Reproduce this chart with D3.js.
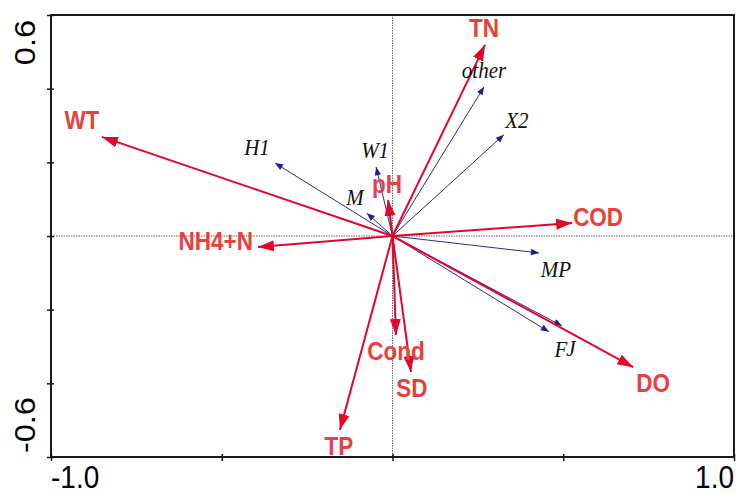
<!DOCTYPE html>
<html><head><meta charset="utf-8">
<script src="https://cdn.jsdelivr.net/npm/d3@7"></script>
<style>html,body{margin:0;padding:0;background:#fff;}svg{display:block;}</style>
</head><body>
<svg id="c" width="736" height="495"></svg>
<script>
// ---- data ----
const envNames = ["TN","WT","pH","NH4+N","COD","DO","Cond","SD","TP"];
const envX     = [0.271,-0.851,-0.013,-0.394,0.526,0.705,0.010,0.054,-0.154];
const envY     = [0.519, 0.269, 0.098,-0.030,0.035,-0.356,-0.269,-0.369,-0.527];

const spNames = ["other","X2","H1","W1","M","MP","F","J"];
const spX     = [0.268,0.326,-0.344,-0.048,-0.075,0.429,0.458,0.496];
const spY     = [0.405,0.275, 0.198, 0.187, 0.062,-0.046,-0.260,-0.244];

const xTickValues = [-1,-0.5,0,0.5,1];
const yTickValues = [-0.6,-0.4,-0.2,0,0.2,0.4,0.6];
const xTickLabels = ["-1.0","1.0"];
const yTickLabels = ["-0.6","0.6"];

// ---- layout (label offsets in px from arrow tips) ----
const envLabelLayout = {
  "TN":{dx:-1,dy:-8,a:"middle"}, "WT":{dx:-20,dy:-8,a:"middle"}, "pH":{dx:-1,dy:-7,a:"middle"},
  "NH4+N":{dx:-5,dy:3,a:"end"}, "COD":{dx:1,dy:3,a:"start"}, "DO":{dx:3,dy:25,a:"start"},
  "Cond":{dx:0,dy:25,a:"middle"}, "SD":{dx:1,dy:25,a:"middle"}, "TP":{dx:-1,dy:25,a:"middle"}
};
const spLabelLayout = {
  "other":{dx:0,dy:-9}, "X2":{dx:13,dy:-7}, "H1":{dx:-18,dy:-8}, "W1":{dx:-1,dy:-9},
  "M":{dx:-12,dy:-8}, "MP":{dx:17,dy:24}, "F":{dx:12,dy:25}, "J":{dx:9,dy:30}
};

const W = 736, H = 495;
const L = 51, R = 734, T = 15, B = 457;
const SY = 1.12; // vertical stretch of glyphs

const svg = d3.select("#c");
const x = d3.scaleLinear().domain([-1,1]).range([L,R]);
const y = d3.scaleLinear().domain([-0.6,0.6]).range([B,T]);

const defs = svg.append("defs");
defs.append("marker").attr("id","hr").attr("markerUnits","userSpaceOnUse")
  .attr("viewBox","-16 -6 17 12").attr("refX",0).attr("refY",0)
  .attr("markerWidth",17).attr("markerHeight",12).attr("orient","auto")
  .append("path").attr("d","M0,0 L-16,-5.5 L-16,5.5 Z").attr("fill","#e2062b");
defs.append("marker").attr("id","hb").attr("markerUnits","userSpaceOnUse")
  .attr("viewBox","-9 -4 10 8").attr("refX",0).attr("refY",0)
  .attr("markerWidth",10).attr("markerHeight",8).attr("orient","auto")
  .append("path").attr("d","M0,0 L-8,-3.2 L-8,3.2 Z").attr("fill","#1d1d8a");

// zero lines
svg.append("line").attr("x1",x(0)).attr("x2",x(0)).attr("y1",T).attr("y2",B)
  .attr("stroke","#666").attr("stroke-width",1).attr("stroke-dasharray","1.5,1");
svg.append("line").attr("x1",L).attr("x2",R).attr("y1",y(0)).attr("y2",y(0))
  .attr("stroke","#666").attr("stroke-width",1).attr("stroke-dasharray","1.5,1");

// species arrows
const sp = spNames.map((n,i)=>({n, x:spX[i], y:spY[i]}));
svg.append("g").selectAll("line").data(sp).join("line")
  .attr("x1",x(0)).attr("y1",y(0)).attr("x2",d=>x(d.x)).attr("y2",d=>y(d.y))
  .attr("stroke","#2a2a96").attr("stroke-width",1).attr("marker-end","url(#hb)");

// env arrows
const env = envNames.map((n,i)=>({n, x:envX[i], y:envY[i]}));
svg.append("g").selectAll("line").data(env).join("line")
  .attr("x1",x(0)).attr("y1",y(0)).attr("x2",d=>x(d.x)).attr("y2",d=>y(d.y))
  .attr("stroke","#e2062b").attr("stroke-width",2).attr("marker-end","url(#hr)");

// species labels
svg.append("g").selectAll("text").data(sp).join("text")
  .attr("transform",d=>`translate(${x(d.x)+spLabelLayout[d.n].dx},${y(d.y)+spLabelLayout[d.n].dy}) scale(1,${SY})`)
  .attr("text-anchor","middle").attr("font-family","'Liberation Serif','Times New Roman',serif")
  .attr("font-style","italic").attr("font-size",21).attr("fill","#111").text(d=>d.n);

// env labels
svg.append("g").selectAll("text").data(env).join("text")
  .attr("transform",d=>`translate(${x(d.x)+envLabelLayout[d.n].dx},${y(d.y)+envLabelLayout[d.n].dy}) scale(1,${SY})`)
  .attr("text-anchor",d=>envLabelLayout[d.n].a).attr("font-family","'Liberation Sans',Arial,sans-serif")
  .attr("font-weight","bold").attr("font-size",22.5).attr("fill","#e8403f").text(d=>d.n);

// frame
svg.append("rect").attr("x",L).attr("y",T).attr("width",R-L).attr("height",B-T)
  .attr("fill","none").attr("stroke","#1a1a1a").attr("stroke-width",2);

// axes ticks
const gx = svg.append("g").attr("transform",`translate(0,${B})`)
  .call(d3.axisBottom(x).tickValues(xTickValues).tickSize(4).tickFormat(""));
gx.select(".domain").remove();
gx.selectAll(".tick line").attr("y1",-3).attr("y2",4).attr("stroke","#1a1a1a").attr("stroke-width",1.5);
const gy = svg.append("g").attr("transform",`translate(${L},0)`)
  .call(d3.axisLeft(y).tickValues(yTickValues).tickSize(4).tickFormat(""));
gy.select(".domain").remove();
gy.selectAll(".tick line").attr("x1",-4).attr("x2",3).attr("stroke","#1a1a1a").attr("stroke-width",1.5);

// tick labels
const fontAx = "'Liberation Sans',Arial,sans-serif";
svg.append("text").attr("transform",`translate(${x(-1)},488) scale(1,${SY})`)
  .attr("text-anchor","start").attr("font-family",fontAx).attr("font-size",28).attr("fill","#000").text(xTickLabels[0]);
svg.append("text").attr("transform",`translate(${x(1)},488) scale(1,${SY})`)
  .attr("text-anchor","end").attr("font-family",fontAx).attr("font-size",28).attr("fill","#000").text(xTickLabels[1]);
svg.append("text").attr("transform",`translate(35,${y(-0.6)-4}) rotate(-90) scale(${SY},1)`)
  .attr("text-anchor","start").attr("font-family",fontAx).attr("font-size",29).attr("fill","#000").text(yTickLabels[0]);
svg.append("text").attr("transform",`translate(35,${y(0.6)+5}) rotate(-90) scale(${SY},1)`)
  .attr("text-anchor","end").attr("font-family",fontAx).attr("font-size",29).attr("fill","#000").text(yTickLabels[1]);
</script>
</body></html>
